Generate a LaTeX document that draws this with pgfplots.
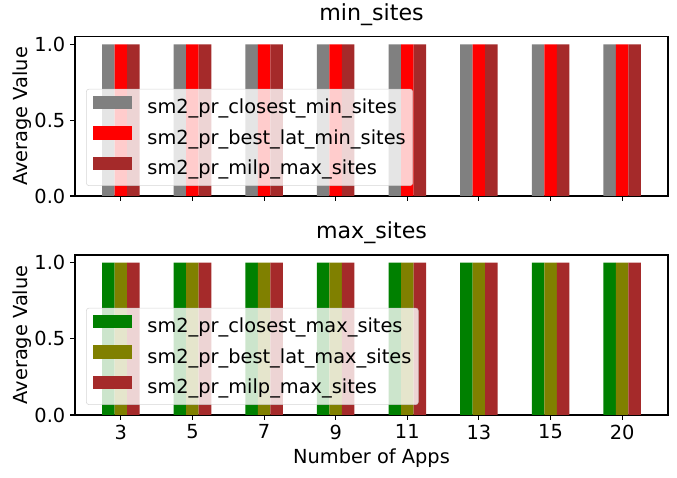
\documentclass[border=0pt]{standalone}
\usepackage{fontspec}
\setmainfont{DejaVu Sans}
\usepackage{pgfplots}
\pgfplotsset{compat=1.18}
\usepackage{pgfplotstable}

\definecolor{cgray}{HTML}{808080}
\definecolor{cred}{HTML}{FF0000}
\definecolor{cbrown}{HTML}{A52A2A}
\definecolor{cgreen}{HTML}{008000}
\definecolor{colive}{HTML}{808000}

% x = position of the category (3,5,7,9,11,13,15,20)
\pgfplotstableread{
x closest bestlat milp
0 1.0 1.0 1.0
1 1.0 1.0 1.0
2 1.0 1.0 1.0
3 1.0 1.0 1.0
4 1.0 1.0 1.0
5 1.0 1.0 1.0
6 1.0 1.0 1.0
7 1.0 1.0 1.0
}\minsites
\pgfplotstableread{
x closest bestlat milp
0 1.0 1.0 1.0
1 1.0 1.0 1.0
2 1.0 1.0 1.0
3 1.0 1.0 1.0
4 1.0 1.0 1.0
5 1.0 1.0 1.0
6 1.0 1.0 1.0
7 1.0 1.0 1.0
}\maxsites

\pgfplotsset{
  mybar/.style={fill=#1, draw=none,
    legend image code/.code={\fill[fill=#1, fill opacity=1, sharp corners] (0bp,-0.5bp) rectangle (28bp,9.1bp);}},
  panel/.style={
    scale only axis,
    width=426.96bp,
    xmin=-0.64, xmax=7.64,
    ymin=0, ymax=1.05,
    ybar, bar width=0.175,
    xtick={0,1,2,3,4,5,6,7},
    ytick={0,0.5,1},
    tick align=outside,
    major tick length=3.5bp,
    xtick pos=left, ytick pos=left,
    axis line style={line width=0.8bp},
    every tick/.style={line width=0.8bp, black},
    tick label style={font=\fontsize{14}{16.8}\selectfont},
    /pgf/number format/assume math mode=true,
    yticklabel style={/pgf/number format/.cd, fixed, fixed zerofill, precision=1},
    label style={font=\fontsize{14}{16.8}\selectfont},
    ylabel={Average Value},
    ylabel style={at={(axis description cs:-0.0808,0.5)}, anchor=base, rotate=0},
    title style={font=\fontsize{16}{19.2}\selectfont, at={(axis description cs:0.5,1)}, anchor=base, yshift=6bp},
    legend cell align=left,
    legend style={
      font=\fontsize{14}{16.8}\selectfont,
      at={(0.0186,0.063)}, anchor=south west,
      fill=white, fill opacity=0.8, draw=black!20, draw opacity=0.8, text opacity=1,
      rounded corners=2bp,
      inner xsep=5bp, inner ysep=5bp,
      row sep=6bp, column sep=11bp,
      nodes={inner sep=0pt, text height=10.5bp, text depth=3bp},
    },
  },
}

\begin{document}
\begin{tikzpicture}
\useasboundingbox (0,0) rectangle (487.44bp,344.16bp);

\begin{axis}[panel,
  at={(54bp,203.04bp)}, anchor=south west,
  height=114.7bp,
  xticklabels={},
  title={min\_sites},
]
\addplot[mybar=cgray, bar shift=-0.175] table[x=x, y=closest] {\minsites};
\addlegendentry{sm2\_pr\_closest\_min\_sites}
\addplot[mybar=cred, bar shift=0] table[x=x, y=bestlat] {\minsites};
\addlegendentry{sm2\_pr\_best\_lat\_min\_sites}
\addplot[mybar=cbrown, bar shift=0.175] table[x=x, y=milp] {\minsites};
\addlegendentry{sm2\_pr\_milp\_max\_sites}
\end{axis}

\begin{axis}[panel,
  at={(54bp,45.36bp)}, anchor=south west,
  height=115.2bp,
  xticklabels={3,5,7,9,11,13,15,20},
  title={max\_sites},
  xlabel={Number of Apps},
  xlabel style={at={(axis description cs:0.5,0)}, anchor=base, yshift=-34.9bp},
]
\addplot[mybar=cgreen, bar shift=-0.175] table[x=x, y=closest] {\maxsites};
\addlegendentry{sm2\_pr\_closest\_max\_sites}
\addplot[mybar=colive, bar shift=0] table[x=x, y=bestlat] {\maxsites};
\addlegendentry{sm2\_pr\_best\_lat\_max\_sites}
\addplot[mybar=cbrown, bar shift=0.175] table[x=x, y=milp] {\maxsites};
\addlegendentry{sm2\_pr\_milp\_max\_sites}
\end{axis}
\end{tikzpicture}
\end{document}
